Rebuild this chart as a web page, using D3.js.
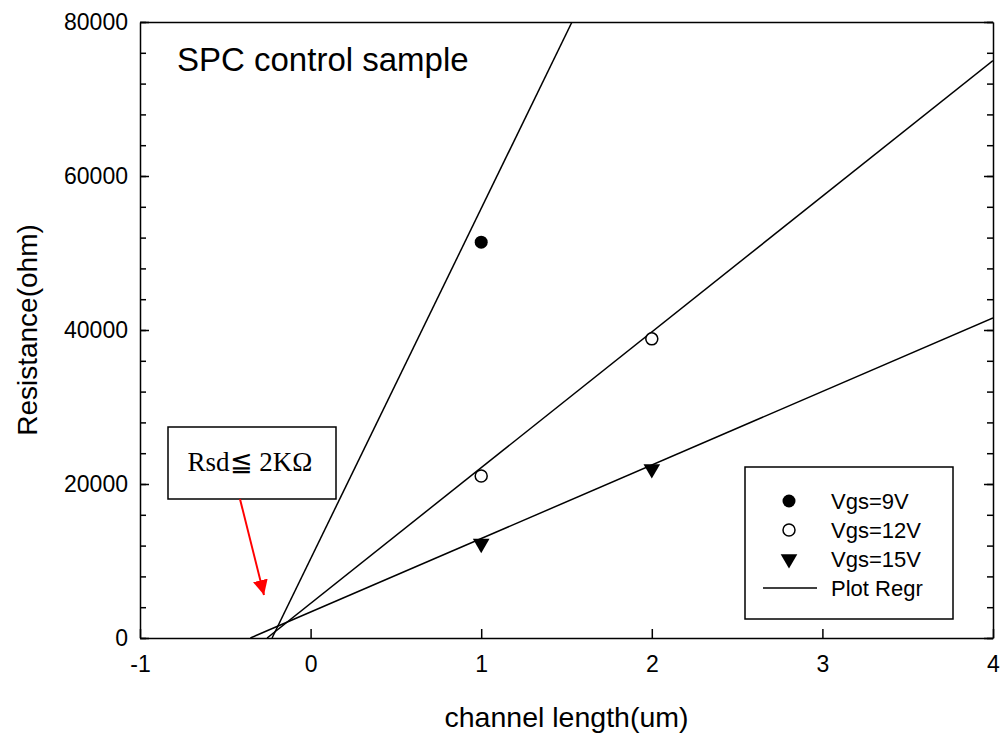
<!DOCTYPE html>
<html lang="en">
<head>
    <meta charset="UTF-8">
    <title>SPC control sample</title>
    <script src="https://cdn.jsdelivr.net/npm/d3@7"></script>
    <style>
        body { margin: 0; background: #fff; }
        .axis path, .axis line { fill: none; stroke: black; stroke-width: 1.5; }
        .axis text { font-family: Arial, "Liberation Sans", sans-serif; font-size: 23px; fill: black; }
        .label { font-family: Arial, "Liberation Sans", sans-serif; font-size: 28px; fill: black; }
    </style>
</head>
<body>
<script>
    // data
    var seriesNames = ["Vgs=9V", "Vgs=12V", "Vgs=15V"];
    var x9 = [1], y9 = [51400];
    var x12 = [1, 2], y12 = [21050, 38850];
    var x15 = [1, 2], y15 = [12250, 21950];
    // regression lines (slope, intercept)
    var regSlope = [45500, 17626, 9547];
    var regIntercept = [10283, 4495, 3370];
    var xTicks = [-1, 0, 1, 2, 3, 4];
    var yTicks = [0, 20000, 40000, 60000, 80000];

    var width = 1002, height = 733;
    var padding = {left: 140, right: 9, top: 22, bottom: 95};
    var svg = d3.select("body").append("svg")
        .attr("width", width).attr("height", height);

    var xScale = d3.scaleLinear().domain([-1, 4]).range([padding.left, width - padding.right]);
    var yScale = d3.scaleLinear().domain([0, 80000]).range([height - padding.bottom, padding.top]);

    svg.append("clipPath").attr("id", "clip").append("rect")
        .attr("x", xScale(-1)).attr("y", yScale(80000))
        .attr("width", xScale(4) - xScale(-1)).attr("height", yScale(0) - yScale(80000));

    // minor y ticks
    var minorY = d3.range(0, 80001, 4000);
    svg.append("g").attr("class", "axis")
        .attr("transform", "translate(" + xScale(-1) + ",0)")
        .call(d3.axisRight(yScale).tickValues(minorY).tickSize(6).tickFormat(""))
        .select(".domain").remove();
    svg.append("g").attr("class", "axis")
        .attr("transform", "translate(" + xScale(4) + ",0)")
        .call(d3.axisLeft(yScale).tickValues(minorY).tickSize(6).tickFormat(""))
        .select(".domain").remove();

    // major axes
    svg.append("g").attr("class", "axis")
        .attr("transform", "translate(" + xScale(-1) + ",0)")
        .call(d3.axisLeft(yScale).tickValues(yTicks).tickSize(-9).tickSizeOuter(0).tickPadding(12)
            .tickFormat(function (d) { return String(d); }));
    svg.append("g").attr("class", "axis")
        .attr("transform", "translate(" + xScale(4) + ",0)")
        .call(d3.axisRight(yScale).tickValues(yTicks).tickSize(-9).tickSizeOuter(0).tickFormat(""));
    svg.append("g").attr("class", "axis")
        .attr("transform", "translate(0," + yScale(0) + ")")
        .call(d3.axisBottom(xScale).tickValues(xTicks).tickSize(-9).tickSizeOuter(0).tickPadding(18)
            .tickFormat(function (d) { return String(d); }));
    svg.append("g").attr("class", "axis")
        .attr("transform", "translate(0," + yScale(80000) + ")")
        .call(d3.axisTop(xScale).tickValues(xTicks).tickSize(0).tickFormat(""));

    // regression lines
    var lineG = svg.append("g").attr("clip-path", "url(#clip)");
    regSlope.forEach(function (m, i) {
        var b = regIntercept[i];
        var x0 = -b / m, x1 = Math.min(4, (80000 - b) / m);
        lineG.append("line")
            .attr("x1", xScale(x0)).attr("y1", yScale(m * x0 + b))
            .attr("x2", xScale(x1)).attr("y2", yScale(m * x1 + b))
            .attr("stroke", "black").attr("stroke-width", 1.5);
    });

    // points
    var tri = d3.symbol().type(d3.symbolTriangle).size(120);
    svg.selectAll(".p9").data(x9).enter().append("circle")
        .attr("cx", function (d) { return xScale(d); })
        .attr("cy", function (d, i) { return yScale(y9[i]); })
        .attr("r", 6.5).attr("fill", "black");
    svg.selectAll(".p12").data(x12).enter().append("circle")
        .attr("cx", function (d) { return xScale(d); })
        .attr("cy", function (d, i) { return yScale(y12[i]); })
        .attr("r", 6).attr("fill", "white").attr("stroke", "black").attr("stroke-width", 1.5);
    svg.selectAll(".p15").data(x15).enter().append("path")
        .attr("d", tri)
        .attr("transform", function (d, i) {
            return "translate(" + xScale(d) + "," + yScale(y15[i]) + ") rotate(180)";
        })
        .attr("fill", "black");

    // title
    svg.append("text").attr("class", "label")
        .attr("x", 177).attr("y", 71)
        .style("font-size", "33px")
        .text("SPC control sample");

    // axis labels
    svg.append("text").attr("class", "label")
        .attr("text-anchor", "middle")
        .attr("x", (xScale(-1) + xScale(4)) / 2).attr("y", 727)
        .style("font-size", "28.5px")
        .text("channel length(um)");
    svg.append("text").attr("class", "label")
        .attr("text-anchor", "middle")
        .attr("transform", "translate(37," + (yScale(0) + yScale(80000)) / 2 + ") rotate(-90)")
        .text("Resistance(ohm)");

    // legend
    var lg = svg.append("g");
    lg.append("rect").attr("x", 745).attr("y", 467).attr("width", 208).attr("height", 152)
        .attr("fill", "white").attr("stroke", "black").attr("stroke-width", 1.5);
    var rowY = [501, 530, 559, 588];
    var legendNames = seriesNames.concat(["Plot Regr"]);
    lg.append("circle").attr("cx", 789).attr("cy", rowY[0]).attr("r", 6.5).attr("fill", "black");
    lg.append("circle").attr("cx", 789).attr("cy", rowY[1]).attr("r", 6)
        .attr("fill", "white").attr("stroke", "black").attr("stroke-width", 1.5);
    lg.append("path").attr("d", tri)
        .attr("transform", "translate(789," + rowY[2] + ") rotate(180)").attr("fill", "black");
    lg.append("line").attr("x1", 763).attr("x2", 817).attr("y1", rowY[3]).attr("y2", rowY[3])
        .attr("stroke", "black").attr("stroke-width", 1.5);
    lg.selectAll(".lt").data(legendNames).enter().append("text")
        .attr("class", "label").style("font-size", "22px")
        .attr("x", 831).attr("y", function (d, i) { return rowY[i]; })
        .attr("dy", "0.36em")
        .text(function (d) { return d; });

    // annotation
    svg.append("rect").attr("x", 168).attr("y", 427).attr("width", 168).attr("height", 72)
        .attr("fill", "white").attr("stroke", "black").attr("stroke-width", 1.5);
    svg.append("text")
        .attr("x", 250).attr("y", 471)
        .attr("text-anchor", "middle")
        .style("font-family", "'Liberation Serif', 'Times New Roman', serif")
        .style("font-size", "27px")
        .text("Rsd\u2266 2K\u03A9");
    svg.append("defs").append("marker")
        .attr("id", "arrow").attr("viewBox", "0 0 10 10")
        .attr("refX", 10).attr("refY", 5)
        .attr("markerWidth", 15).attr("markerHeight", 15)
        .attr("markerUnits", "userSpaceOnUse")
        .attr("orient", "auto")
        .append("path").attr("d", "M0,0 L10,5 L0,10 z").attr("fill", "red");
    svg.append("line")
        .attr("x1", 240).attr("y1", 499).attr("x2", 264).attr("y2", 595)
        .attr("stroke", "red").attr("stroke-width", 2)
        .attr("marker-end", "url(#arrow)");
</script>
</body>
</html>
